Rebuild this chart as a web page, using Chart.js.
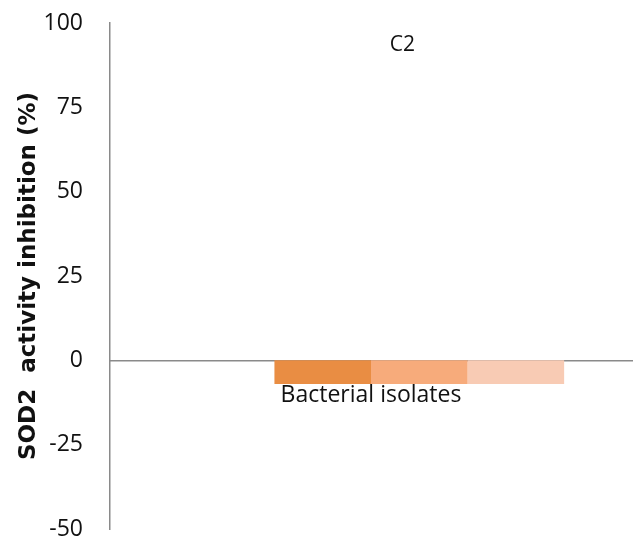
<!DOCTYPE html>
<html>
<head>
<meta charset="utf-8">
<script src="https://cdn.jsdelivr.net/npm/chart.js@4/dist/chart.umd.min.js"></script>
<style>
  html, body { margin: 0; padding: 0; background: #ffffff; }
  #wrap { width: 633px; height: 541px; }
</style>
</head>
<body>
<div id="wrap"><canvas id="chart"></canvas></div>
<script>
// Category and series
const categories = ['Bacterial isolates'];
const seriesNames = ['Series 1', 'Series 2', 'Series 3', 'Series 4'];
const seriesValues = [
  [null],
  [-7],
  [-7],
  [-7]
];
const seriesColors = ['#ffffff', '#E98D43', '#F7AB7B', '#F8CBB4'];

// Value axis
const yMin = -50;
const yMax = 100;
const yStep = 25;
const chartTitle = 'C2';
const yTitle = 'SOD2  activity inhibition (%)';

const FONT = "'Open Sans', 'Liberation Sans', sans-serif";

// Title drawn over the plot area
const overlayTitle = {
  id: 'overlayTitle',
  afterDraw(chart) {
    const { ctx, chartArea } = chart;
    ctx.save();
    ctx.font = `21px ${FONT}`;
    ctx.fillStyle = '#111111';
    ctx.textAlign = 'center';
    ctx.textBaseline = 'middle';
    ctx.fillText(chartTitle,
      chartArea.left + chartArea.width * 0.56,
      chartArea.top + 22);
    ctx.restore();
  }
};

new Chart(document.getElementById('chart'), {
  type: 'bar',
  data: {
    labels: categories,
    datasets: seriesValues.map((vals, i) => ({
      label: seriesNames[i],
      data: vals,
      backgroundColor: seriesColors[i],
      borderWidth: 0,
      categoryPercentage: 0.74,
      barPercentage: 1.0
    }))
  },
  options: {
    responsive: true,
    maintainAspectRatio: false,
    animation: false,
    layout: { padding: { top: 23, bottom: 12, right: 1, left: 0 } },
    plugins: {
      legend: { display: false },
      tooltip: { enabled: false },
      title: { display: false }
    },
    scales: {
      x: {
        position: { y: 0 },
        z: 1,
        afterFit(scale) { scale.height = 0; },
        grid: { display: false, drawTicks: false },
        border: { display: true, color: '#8a8a8a', width: 1.5 },
        ticks: {
          color: '#111111',
          font: { family: FONT, size: 23 },
          padding: 21
        }
      },
      y: {
        min: yMin,
        max: yMax,
        afterFit(scale) {
          scale.width = 110;
          // outer labels may overhang the plot; the layout padding covers them
          scale.paddingTop = 0;
          scale.paddingBottom = 0;
        },
        grid: { display: false, drawTicks: false },
        border: { display: true, color: '#8a8a8a', width: 1.5 },
        ticks: {
          stepSize: yStep,
          color: '#111111',
          font: { family: FONT, size: 23 },
          padding: 27
        },
        title: {
          display: true,
          text: yTitle,
          color: '#111111',
          font: { family: "'DejaVu Sans', sans-serif", size: 23, weight: 'bold' },
          padding: { top: 15, bottom: 0 }
        }
      }
    }
  },
  plugins: [overlayTitle]
});
</script>
</body>
</html>
